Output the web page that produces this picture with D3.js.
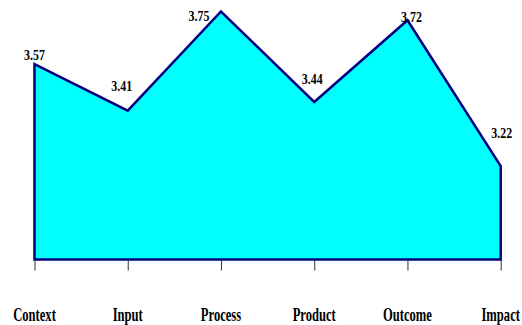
<!DOCTYPE html>
<html>
<head>
<meta charset="utf-8">
<script src="https://cdn.jsdelivr.net/npm/d3@7"></script>
<style>
  html, body { margin: 0; padding: 0; background: #fff; }
  svg { display: block; }
  text { font-family: "Liberation Serif", "Times New Roman", serif; font-weight: bold; fill: #000; }
</style>
</head>
<body>
<svg id="chart" width="522" height="325"></svg>
<script>
// Evaluation dimensions and their mean scores
const categories = ["Context", "Input", "Process", "Product", "Outcome", "Impact"];
const scores = [3.57, 3.41, 3.75, 3.44, 3.72, 3.22];
const scoreLabels = ["3.57", "3.41", "3.75", "3.44", "3.72", "3.22"];

// Hand-placed nudges (px) for the value labels, relative to each vertex
const labelNudgeX = [0, -6, -22, -2, 4, 1];
const labelNudgeY = [-4, -20, 10, -18, 2, -28];

const svg = d3.select("#chart");

const x = d3.scalePoint().domain(categories).range([34.5, 500.7]);
const y = d3.scaleLinear().domain([2.9, 3.8]).range([259.5, -3.1]);

const rows = categories.map((c, i) => ({ c, v: scores[i], label: scoreLabels[i], i }));

// Filled area, outlined all round
const area = d3.area()
  .x(d => x(d.c))
  .y0(y(2.9))
  .y1(d => y(d.v));

svg.append("path")
  .datum(rows)
  .attr("d", d => area(d) + "Z")
  .attr("fill", "#00FFFF")
  .attr("stroke", "#000080")
  .attr("stroke-width", 2.5)
  .attr("stroke-linejoin", "miter");

// Category axis: ticks below the baseline, no domain line
const xAxis = d3.axisBottom(x).tickSize(11).tickPadding(38).tickSizeOuter(0);
const gx = svg.append("g")
  .attr("transform", `translate(0,${y(2.9)})`)
  .call(xAxis);
gx.select(".domain").remove();
gx.selectAll(".tick line").attr("stroke", "#333").attr("stroke-width", 1);
gx.selectAll(".tick text").remove();

// Category labels (tall, narrow serif)
svg.append("g").selectAll("text")
  .data(rows)
  .join("text")
  .attr("text-anchor", "middle")
  .attr("font-size", 18)
  .attr("transform", d => `translate(${x(d.c)},321) scale(0.7,1)`)
  .text(d => d.c);

// Value labels
svg.append("g").selectAll("text")
  .data(rows)
  .join("text")
  .attr("text-anchor", "middle")
  .attr("font-size", 14)
  .attr("transform", d => `translate(${x(d.c) + labelNudgeX[d.i]},${y(d.v) + labelNudgeY[d.i]}) scale(0.85,1)`)
  .text(d => d.label);
</script>
</body>
</html>
